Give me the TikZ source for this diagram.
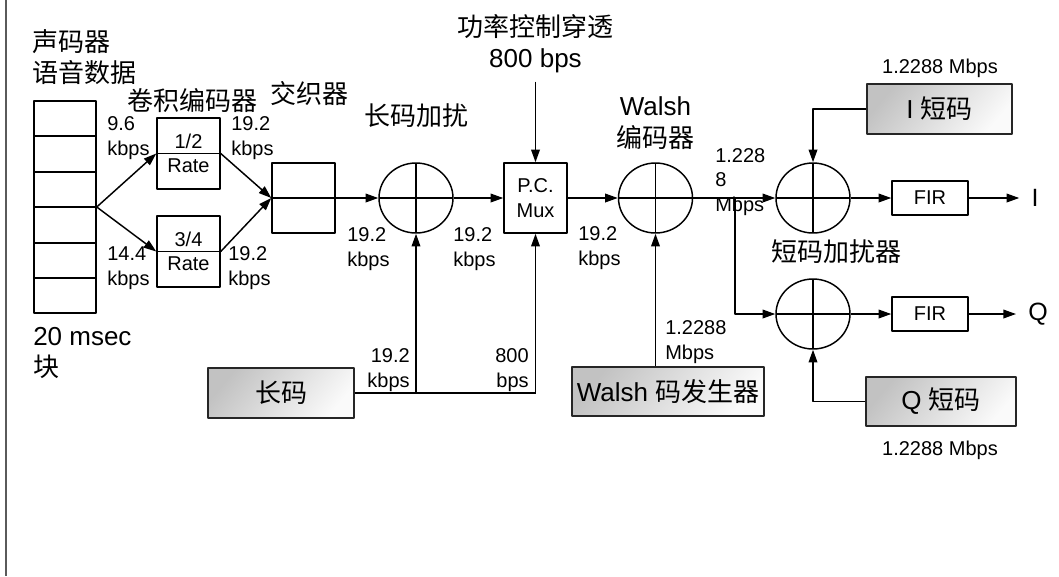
\documentclass[tikz,border=0pt]{standalone}
\usepackage{fontspec}
\setmainfont{Liberation Sans}
\newfontfamily\cjk{Noto Sans CJK SC}
\usetikzlibrary{arrows.meta,shapes.geometric}

\definecolor{frame}{HTML}{5A5A5A}
\definecolor{boxline}{HTML}{262626}

\begin{document}
\begin{tikzpicture}[
  x=0.75pt, y=-0.75pt,
  line join=round,
  wire/.style={line width=1.1pt},
  arr/.style={wire, -{Triangle[length=9.5pt,width=6.5pt]}},
  small/.style={font=\fontsize{15}{18.5}\selectfont, inner sep=0pt},
  big/.style={font=\fontsize{19.5}{23.5}\selectfont, inner sep=0pt},
  blk/.style={draw, wire, inner sep=0pt, font=\fontsize{15}{18.5}\selectfont, align=center},
  ratebox/.style={blk, minimum width=47.25pt, minimum height=53.25pt,
    path picture={\draw[wire] (path picture bounding box.west) -- (path picture bounding box.east);}},
  firbox/.style={blk, minimum width=57pt, minimum height=25.5pt},
  xorr/.style={ellipse, draw, wire, minimum width=55.5pt, minimum height=52.5pt, inner sep=0pt,
    path picture={\draw[wire] (path picture bounding box.north) -- (path picture bounding box.south)
                              (path picture bounding box.west) -- (path picture bounding box.east);}},
  codebox/.style={draw=boxline, wire, top color=black!24, bottom color=black!2, shading angle=50,
    inner sep=0pt, font=\fontsize{19.5}{23.5}\selectfont},
  outlbl/.style={font=\fontsize{18.75}{22}\selectfont, inner sep=9pt},
]
\useasboundingbox (0,0) rectangle (1059,576);

% ── frame line on the left ────────────────────────────────────────────────
\draw[frame, line width=1.1pt] (6,0) -- (6,576);

% ── vocoder frame and the two convolutional encoders ─────────────────────
\node[big, anchor=west, align=left] (voc) at (32,57) {\cjk 声码器\\\cjk 语音数据};
\node[blk, minimum width=46.5pt, minimum height=159pt] (stack) at (65,207) {};
\foreach \y in {136,172,243,278} { \draw[wire] (stack.west |- 0,\y) -- (stack.east |- 0,\y); }
\draw[wire] (stack.west) -- (stack.east);
\node[big, anchor=west, align=left] (blkl) at (33,353) {20 msec\\\cjk 块};

\node[big] (convl) at (192,101) {\cjk 卷积编码器};
\node[ratebox] (rateA) at (188.5,153.5) {1/2\\Rate};
\node[ratebox] (rateB) at (188.5,251.5) {3/4\\Rate};

\node[small, anchor=west, align=left] (r96)  at (107,138) {9.6\\kbps};
\node[small, anchor=west, align=left] (r144) at (107,268) {14.4\\kbps};
\node[small, anchor=west, align=left] (rA)   at (231,138) {19.2\\kbps};
\node[small, anchor=west, align=left] (rB)   at (228,268) {19.2\\kbps};

\draw[arr] (stack.east) -- (rateA.west);
\draw[arr] (stack.east) -- (rateB.west);

% ── interleaver, long code scrambler, power control mux ──────────────────
\node[big] (intl) at (309,94) {\cjk 交织器};
\node[blk, minimum width=47.25pt, minimum height=52.5pt] (inter) at (303.5,198) {};
\draw[arr] (rateA.east) -- (inter.west);
\draw[arr] (rateB.east) -- (inter.west);
\draw[wire] (inter.west) -- (inter.east);

\node[big] (lsl) at (416,116) {\cjk 长码加扰};
\node[xorr] (xorL) at (416,198) {};
\draw[arr] (inter.east) -- (xorL.west);

\node[blk, minimum width=47.25pt, minimum height=52.5pt] (mux) at (535.5,198) {P.C.\\Mux};
\draw[arr] (xorL.east) -- (mux.west);
\node[big, align=center] (pcl) at (535.5,44) {\cjk 功率控制穿透\\800 bps};
\draw[arr] ([yshift=-6pt]pcl.south) -- (mux.north);

\node[small, anchor=west, align=left] (s1) at (347,249) {19.2\\kbps};
\node[small, anchor=west, align=left] (s2) at (453,249) {19.2\\kbps};
\node[small, anchor=west, align=left] (s3) at (578,248) {19.2\\kbps};

% long code feeds both the scrambler and the mux
\node[codebox, minimum width=109.5pt, minimum height=37.5pt] (lc) at (281,393) {\cjk 长码};
\coordinate (jL) at (xorL.south |- lc.east);
\coordinate (jM) at (mux.south |- lc.east);
\draw[wire] (lc.east) -- (jM);
\draw[arr] (jL) -- (xorL.south);
\draw[arr] (jM) -- (mux.south);
\node[small, anchor=east, align=right] (lcr) at (410,370) {19.2\\kbps};
\node[small, anchor=east, align=right] (pcr) at (529,370) {800\\bps};

% ── Walsh cover ───────────────────────────────────────────────────────────
\node[big, align=center] (wl) at (655.5,123) {Walsh\\\cjk 编码器};
\node[xorr] (xorW) at (655.5,198) {};
\draw[arr] (mux.east) -- (xorW.west);
\node[codebox, minimum width=144pt, minimum height=36.75pt] (wg) at (668,391.5) {Walsh {\cjk 码发生器}};
\draw[arr] (xorW.south |- wg.north) -- (xorW.south);
\node[small, anchor=west, align=left] (wr) at (665,342) {1.2288\\Mbps};

% ── short code scramblers, I and Q ───────────────────────────────────────
\node[xorr] (xorI) at (813,198) {};
\node[xorr] (xorQ) at (813,314) {};
\coordinate (br) at (735,198);
\draw[arr] (xorW.east) -- (xorI.west);
\draw[arr] (br) |- (xorQ.west);
\node[small, anchor=west, align=left] (cr) at (715,182) {1.228\\8\\Mbps};
\node[big] (scl) at (836,252) {\cjk 短码加扰器};

\node[codebox, minimum width=108.75pt, minimum height=37.5pt] (ic) at (939.5,109) {I {\cjk 短码}};
\node[small] (icr) at (940,68) {1.2288 Mbps};
\draw[arr] (ic.west) -| (xorI.north);
\node[codebox, minimum width=112.5pt, minimum height=36.75pt] (qc) at (941,401.5) {Q {\cjk 短码}};
\node[small] (qcr) at (940,450) {1.2288 Mbps};
\draw[arr] (qc.west) -| (xorQ.south);

\node[firbox] (firI) at (930,198) {FIR};
\node[firbox] (firQ) at (930,314) {FIR};
\draw[arr] (xorI.east) -- (firI.west);
\draw[arr] (xorQ.east) -- (firQ.west);
\node[outlbl] (outI) at (1035,198) {I};
\node[outlbl] (outQ) at (1038,314) {Q};
\draw[arr] (firI.east) -- (outI.west);
\draw[arr] (firQ.east) -- (outQ.west);

\end{tikzpicture}
\end{document}
